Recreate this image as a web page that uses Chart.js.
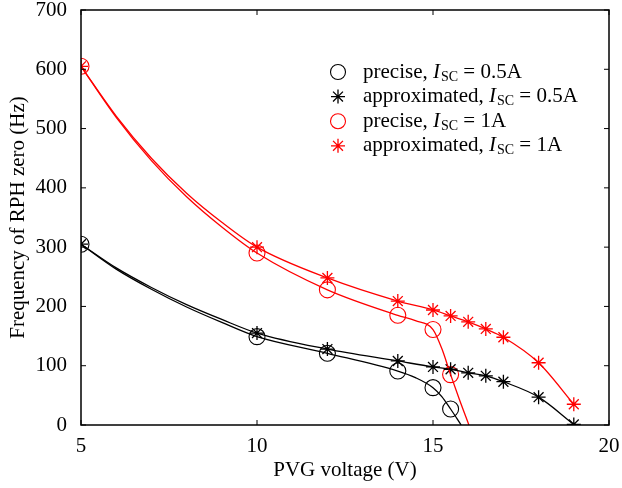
<!DOCTYPE html>
<html>
<head>
<meta charset="utf-8">
<script src="https://cdn.jsdelivr.net/npm/chart.js@4"></script>
<style>
  html, body { margin: 0; padding: 0; background: #fff; }
  #wrap { width: 622px; height: 488px; }
</style>
</head>
<body>
<div id="wrap"><canvas id="chart"></canvas></div>
<script>
// measured points (markers)
const voltPrecise = [5, 10, 12, 14, 15, 15.5];
const precise05 = [305, 149, 121, 91, 63, 27];
const precise1 = [605, 290, 228, 185, 161, 85];

const voltApprox = [5, 10, 12, 14, 15, 15.5, 16, 16.5, 17, 18, 19];
const approx05 = [305, 155, 128, 108, 98, 94, 88, 83, 73, 47, 1];
const approx1 = [605, 300, 248, 209, 194, 184, 174, 162, 148, 105, 35];

// continuous curves
const curveVoltP05 = [5, 6, 7, 8, 9, 10, 12, 14, 14.5, 15, 15.25, 15.5, 15.8];
const curveP05 = [305, 263, 229, 199, 173, 149, 121, 91, 80, 63, 48, 27, 0];
const curveVoltA05 = [5, 6, 7, 8, 9, 10, 12, 14, 15, 15.5, 16, 16.5, 17, 18, 19];
const curveA05 = [305, 265, 232, 203, 178, 155, 128, 108, 98, 94, 88, 83, 73, 47, 1];
const curveVoltP1 = [5, 6, 7, 8, 9, 10, 12, 14, 14.5, 15, 15.25, 15.5, 15.75, 16.02];
const curveP1 = [605, 519, 446, 385, 334, 290, 228, 185, 176, 161, 129, 85, 43, 0];
const curveVoltA1 = [5, 6, 7, 8, 9, 10, 12, 14, 15, 15.5, 16, 16.5, 17, 18, 19];
const curveA1 = [605, 521, 450, 391, 342, 300, 248, 209, 194, 184, 174, 162, 148, 105, 35];

const xTicks = [5, 10, 15, 20];
const yTicks = [0, 100, 200, 300, 400, 500, 600, 700];

const legendRows = [
  { pre: 'precise, ', post: ' = 0.5A', color: '#000', style: 'circle' },
  { pre: 'approximated, ', post: ' = 0.5A', color: '#000', style: 'star' },
  { pre: 'precise, ', post: ' = 1A', color: '#ff0000', style: 'circle' },
  { pre: 'approximated, ', post: ' = 1A', color: '#ff0000', style: 'star' },
];

const pts = (xs, ys) => xs.map((x, i) => ({ x, y: ys[i] }));

function curve(xs, ys, color) {
  return {
    data: pts(xs, ys),
    showLine: true,
    borderColor: color,
    borderWidth: 1.3,
    pointRadius: 0,
    cubicInterpolationMode: 'monotone',
    fill: false,
  };
}

function marks(xs, ys, color, style) {
  return {
    data: pts(xs, ys),
    showLine: false,
    pointStyle: style,
    pointRadius: style === 'circle' ? 8 : 7,
    pointBorderColor: color,
    pointBackgroundColor: 'rgba(0,0,0,0)',
    pointBorderWidth: style === 'circle' ? 1.1 : 1.3,
  };
}

// frame + inward ticks on all four sides
const framePlugin = {
  id: 'frame',
  afterDraw(chart) {
    const { ctx, chartArea: a } = chart;
    const xs = chart.scales.x, ys = chart.scales.y;
    ctx.save();
    ctx.strokeStyle = '#000';
    ctx.lineWidth = 1.5;
    ctx.strokeRect(a.left, a.top, a.right - a.left, a.bottom - a.top);
    ctx.lineWidth = 1;
    ctx.beginPath();
    xTicks.forEach(v => {
      const x = xs.getPixelForValue(v);
      ctx.moveTo(x, a.bottom); ctx.lineTo(x, a.bottom - 5);
      ctx.moveTo(x, a.top); ctx.lineTo(x, a.top + 5);
    });
    yTicks.forEach(v => {
      const y = ys.getPixelForValue(v);
      ctx.moveTo(a.left, y); ctx.lineTo(a.left + 5, y);
      ctx.moveTo(a.right, y); ctx.lineTo(a.right - 5, y);
    });
    ctx.stroke();
    ctx.restore();
  },
};

// legend with italic I and subscript SC
const legendPlugin = {
  id: 'subLegend',
  afterDraw(chart) {
    const { ctx } = chart;
    const mx = 338, tx = 363, y0 = 72, dy = 24.6;
    ctx.save();
    ctx.textBaseline = 'middle';
    legendRows.forEach((r, i) => {
      const y = y0 + i * dy;
      ctx.strokeStyle = r.color;
      ctx.beginPath();
      if (r.style === 'circle') {
        ctx.lineWidth = 1.1;
        ctx.arc(mx, y, 7.5, 0, Math.PI * 2);
      } else {
        ctx.lineWidth = 1.3;
        const s = 7;
        ctx.moveTo(mx - s, y); ctx.lineTo(mx + s, y);
        ctx.moveTo(mx, y - s); ctx.lineTo(mx, y + s);
        const d = s * Math.SQRT1_2;
        ctx.moveTo(mx - d, y - d); ctx.lineTo(mx + d, y + d);
        ctx.moveTo(mx - d, y + d); ctx.lineTo(mx + d, y - d);
      }
      ctx.stroke();

      ctx.fillStyle = '#000';
      let x = tx;
      ctx.font = '21px "Liberation Serif"';
      ctx.fillText(r.pre, x, y);
      x += ctx.measureText(r.pre).width;
      ctx.font = 'italic 21px "Liberation Serif"';
      ctx.fillText('I', x, y);
      x += ctx.measureText('I').width + 1;
      ctx.font = '14px "Liberation Serif"';
      ctx.fillText('SC', x, y + 5);
      x += ctx.measureText('SC').width;
      ctx.font = '21px "Liberation Serif"';
      ctx.fillText(r.post, x, y);
    });
    ctx.restore();
  },
};

Chart.defaults.font.family = '"Liberation Serif", "Times New Roman", serif';
Chart.defaults.font.size = 21;
Chart.defaults.color = '#000';

new Chart(document.getElementById('chart'), {
  type: 'scatter',
  data: {
    datasets: [
      curve(curveVoltP05, curveP05, '#000'),
      curve(curveVoltA05, curveA05, '#000'),
      curve(curveVoltP1, curveP1, '#ff0000'),
      curve(curveVoltA1, curveA1, '#ff0000'),
      marks(voltPrecise, precise05, '#000', 'circle'),
      marks(voltApprox, approx05, '#000', 'star'),
      marks(voltPrecise, precise1, '#ff0000', 'circle'),
      marks(voltApprox, approx1, '#ff0000', 'star'),
    ],
  },
  options: {
    responsive: true,
    maintainAspectRatio: false,
    animation: false,
    layout: { padding: { top: 10, right: 13, left: 0, bottom: 0 } },
    plugins: {
      legend: { display: false },
      tooltip: { enabled: false },
    },
    scales: {
      x: {
        type: 'linear',
        min: 5,
        max: 20,
        afterBuildTicks: (s) => { s.ticks = xTicks.map(v => ({ value: v })); },
        afterFit: (s) => { s.height = 63; },
        ticks: { padding: 1, maxRotation: 0 },
        grid: { display: false },
        border: { display: false },
        title: { display: true, text: 'PVG voltage (V)', padding: { top: 0, bottom: 5 } },
      },
      y: {
        type: 'linear',
        min: 0,
        max: 700,
        afterBuildTicks: (s) => { s.ticks = yTicks.map(v => ({ value: v })); },
        afterFit: (s) => { s.width = 81; s.paddingTop = 0; s.paddingBottom = 0; },
        ticks: { padding: 6 },
        grid: { display: false },
        border: { display: false },
        title: { display: true, text: 'Frequency of RPH zero (Hz)', padding: { top: 6, bottom: 0 } },
      },
    },
  },
  plugins: [framePlugin, legendPlugin],
});
</script>
</body>
</html>
